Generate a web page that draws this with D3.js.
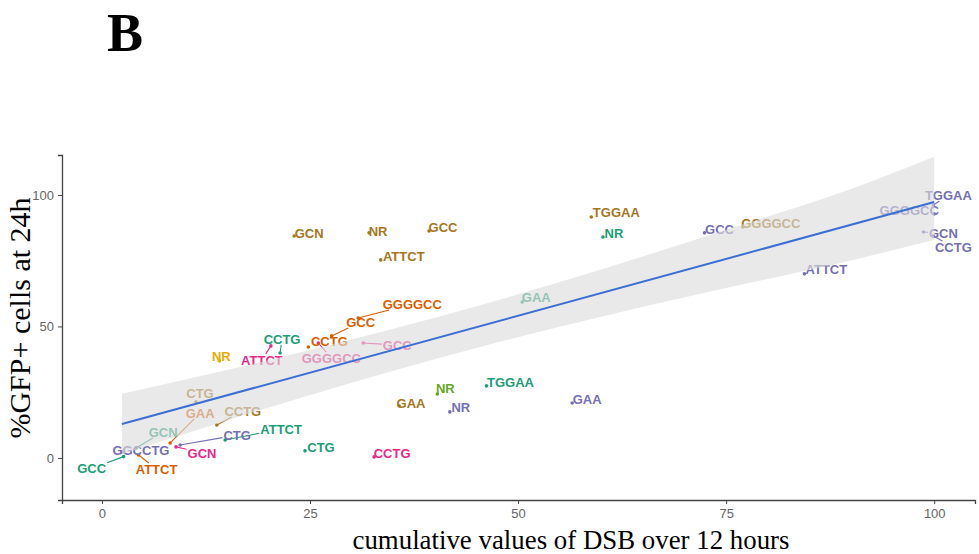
<!DOCTYPE html>
<html>
<head>
<meta charset="utf-8">
<script src="https://cdn.jsdelivr.net/npm/d3@7"></script>
<style>
  body { margin: 0; background: #fff; }
  svg { display: block; }
</style>
</head>
<body>
<svg id="chart"></svg>
<script>
// repeat labels, colour group, x = cumulative DSB, y = %GFP+
const labels = [
  "GCN", "NR", "GCC", "ATTCT", "TGGAA", "GAA", "GGGGCC", "CTG", "CCTG",
  "GGGGCC", "GCC", "CCTG", "GAA", "ATTCT",
  "GCC", "CCTG", "ATTCT", "CTG", "TGGAA", "NR", "GAA", "GCN",
  "ATTCT", "GGGGCC", "GCC", "GCN", "CCTG",
  "NR",
  "NR",
  "CTG", "GGCCTG", "NR", "GAA", "GCC", "ATTCT", "TGGAA", "GGGGCC", "GCN", "CCTG"
];
const groups = [
  "brown", "brown", "brown", "brown", "brown", "brown", "brown", "brown", "brown",
  "orange", "orange", "orange", "orange", "orange",
  "teal", "teal", "teal", "teal", "teal", "teal", "teal", "teal",
  "pink", "pink", "pink", "pink", "pink",
  "green",
  "gold",
  "purple", "purple", "purple", "purple", "purple", "purple", "purple", "purple", "purple", "purple"
];
const dsb = [
  23.1, 32.1, 39.3, 33.5, 58.8, 35.7, 77.0, 11.3, 13.8,
  30.8, 27.6, 24.8, 8.2, 4.4,
  2.6, 21.4, 14.8, 24.4, 46.2, 60.2, 50.5, 4.1,
  20.3, 26.0, 31.4, 8.9, 32.7,
  40.3,
  14.1,
  9.4, 2.4, 41.8, 56.5, 72.4, 84.4, 99.9, 100.0, 98.7, 99.9
];
const gfp = [
  84.4, 85.6, 86.3, 75.3, 91.6, 19.8, 87.8, 21.3, 12.5,
  53.2, 46.4, 42.2, 5.7, 1.1,
  0.5, 39.9, 6.8, 2.7, 27.4, 84.0, 59.3, 3.8,
  42.6, 43.7, 43.7, 4.2, 0.4,
  24.3,
  36.9,
  4.9, 2.3, 17.5, 20.9, 85.6, 70.0, 96.2, 92.8, 85.9, 84.4
];

// linear fit and its confidence band
const fitX = [2.4, 100];
const fitY = [12.9, 97.3];
const bandX = [2.4, 15, 30, 45, 60, 75, 90, 100];
const bandLow = [1.4, 14.2, 28.6, 41.8, 53.7, 64.6, 75.1, 83.0];
const bandHigh = [24.4, 33.4, 45.0, 57.7, 71.7, 86.8, 102.3, 114.5];

const xTicks = [0, 25, 50, 75, 100];
const yTicks = [0, 50, 100];

const palette = {
  teal: "#1b9e77",
  orange: "#d95f02",
  purple: "#7570b3",
  pink: "#e7298a",
  green: "#66a61e",
  gold: "#e6ab02",
  brown: "#a6761d",
};

// where the repelled label centre sits relative to its point (px)
const labelShift = [
  [15, -3], [9, -2], [14, -4], [23, -4], [25, -5], [12, -3], [28, -4], [4, -9], [26, -14],
  [54, -14], [29, -14], [21, -6], [30, -30], [18, 14],
  [-32, 12], [2, -14], [56, -11], [16, -4], [24, -4], [11, -4], [14, -5], [27, -16],
  [-9, 14], [13, 15], [34, 2], [26, 6], [18, -4],
  [8, -6],
  [2, -5],
  [57, -10], [19, -2], [11, -5], [15, -4], [15, -4], [22, -5], [15, -10], [-25, -4], [20, 1], [20, 11],
];

const svgWidth = 979;
const svgHeight = 554;
const p_left = 62;
const p_right = 975;
const p_top = 155;
const p_bottom = 500;

const svg = d3.select("#chart").attr("width", svgWidth).attr("height", svgHeight);

const xScale = d3.scaleLinear().domain([-4.8, 104.9]).range([p_left, p_right]);
const yScale = d3.scaleLinear().domain([-16, 115.2]).range([p_bottom, p_top]);

const points = labels.map((d, i) => ({
  label: d,
  color: palette[groups[i]],
  x: xScale(dsb[i]),
  y: yScale(gfp[i]),
  lx: xScale(dsb[i]) + labelShift[i][0],
  ly: yScale(gfp[i]) + labelShift[i][1],
}));

// panel title letter
svg.append("text")
  .attr("x", 107)
  .attr("y", 51)
  .style("font-family", "'Liberation Serif', 'Times New Roman', serif")
  .style("font-weight", "bold")
  .style("font-size", "54px")
  .text("B");

const plot = svg.append("g");

// points
plot.selectAll(".pt")
  .data(points)
  .join("circle")
  .attr("class", "pt")
  .attr("cx", (d) => d.x)
  .attr("cy", (d) => d.y)
  .attr("r", 1.8)
  .attr("fill", (d) => d.color);

// labels (measure, then segments underneath)
const segG = plot.append("g");
const txt = plot.selectAll(".lab")
  .data(points)
  .join("text")
  .attr("class", "lab")
  .attr("x", (d) => d.lx)
  .attr("y", (d) => d.ly)
  .attr("text-anchor", "middle")
  .attr("dy", "0.36em")
  .style("font-family", "'Liberation Sans', Arial, sans-serif")
  .style("font-weight", "bold")
  .style("font-size", "13px")
  .attr("fill", (d) => d.color)
  .text((d) => d.label);

txt.each(function (d) {
  const w = this.getComputedTextLength() / 2 + 1;
  const h = 6;
  const vx = d.x - d.lx;
  const vy = d.y - d.ly;
  if (Math.abs(vx) <= w && Math.abs(vy) <= h) return;
  const t = Math.min(
    vx !== 0 ? w / Math.abs(vx) : Infinity,
    vy !== 0 ? h / Math.abs(vy) : Infinity
  );
  const ex = d.lx + vx * t;
  const ey = d.ly + vy * t;
  if (Math.hypot(d.x - ex, d.y - ey) < 4) return;
  segG.append("line")
    .attr("x1", d.x).attr("y1", d.y)
    .attr("x2", ex).attr("y2", ey)
    .attr("stroke", d.color)
    .attr("stroke-width", 1.1);
});

// confidence band sits on top of the labels
const band = bandX.map((d, i) => ({ x: d, lo: bandLow[i], hi: bandHigh[i] }));
plot.append("path")
  .datum(band)
  .attr("fill", "#dcdcdc")
  .attr("fill-opacity", 0.62)
  .attr("d", d3.area()
    .curve(d3.curveMonotoneX)
    .x((d) => xScale(d.x))
    .y0((d) => yScale(d.lo))
    .y1((d) => yScale(d.hi)));

plot.append("line")
  .attr("x1", xScale(fitX[0])).attr("y1", yScale(fitY[0]))
  .attr("x2", xScale(fitX[1])).attr("y2", yScale(fitY[1]))
  .attr("stroke", "#3b6fd4")
  .attr("stroke-width", 2);

// axes
const xAxis = svg.append("g")
  .attr("transform", `translate(0, ${p_bottom})`)
  .call(d3.axisBottom(xScale).tickValues(xTicks).tickSize(4).tickPadding(5));
const yAxis = svg.append("g")
  .attr("transform", `translate(${p_left}, 0)`)
  .call(d3.axisLeft(yScale).tickValues(yTicks).tickSize(4).tickPadding(4));

[xAxis, yAxis].forEach((a) => {
  a.select(".domain").attr("stroke", "#444").attr("stroke-width", 1.3);
  a.selectAll(".tick line").attr("stroke", "#444");
  a.selectAll(".tick text")
    .attr("fill", "#666")
    .style("font-family", "'Liberation Sans', Arial, sans-serif")
    .style("font-size", "13px");
});

svg.append("text")
  .attr("x", 571)
  .attr("y", 549)
  .attr("text-anchor", "middle")
  .attr("textLength", 437)
  .attr("lengthAdjust", "spacingAndGlyphs")
  .style("font-family", "'Liberation Serif', 'Times New Roman', serif")
  .style("font-size", "27px")
  .text("cumulative values of DSB over 12 hours");

svg.append("text")
  .attr("transform", "translate(30, 318) rotate(-90)")
  .attr("text-anchor", "middle")
  .style("font-family", "'Liberation Serif', 'Times New Roman', serif")
  .style("font-size", "30px")
  .text("%GFP+ cells at 24h");
</script>
</body>
</html>
